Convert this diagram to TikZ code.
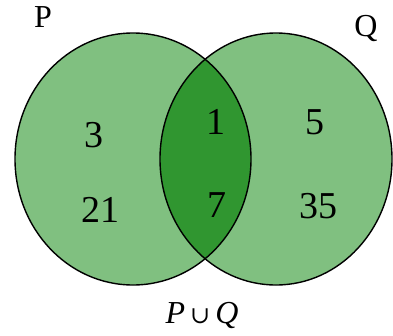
\documentclass[tikz,border=0pt]{standalone}
\usepackage{fontspec}
\setmainfont{Liberation Serif}
\newfontfamily\cupfont{DejaVu Serif}
\begin{document}
\begin{tikzpicture}[x=1pt,y=-1pt,
  setlbl/.style={inner sep=0pt,font=\fontsize{32}{36}\selectfont},
  numlbl/.style={inner sep=0pt,font=\fontsize{38}{42}\selectfont},
  outline/.style={draw=black,line width=1.4pt}]
\definecolor{lightg}{RGB}{128,192,128}
\definecolor{darkg}{RGB}{48,150,48}
\useasboundingbox (0,0) rectangle (393,335);
% fills
\fill[lightg] (133,159) ellipse [x radius=118, y radius=126];
\fill[lightg] (276,159) ellipse [x radius=116, y radius=126];
\begin{scope}
  \clip (133,159) ellipse [x radius=118, y radius=126];
  \fill[darkg] (276,159) ellipse [x radius=116, y radius=126];
\end{scope}
% outlines
\draw[outline] (133,159) ellipse [x radius=118, y radius=126];
\draw[outline] (276,159) ellipse [x radius=116, y radius=126];
% labels
\node[setlbl] (P) at (43,17) {P};
\node[setlbl,anchor=base] (Q) at (366,36) {Q};
\node[numlbl] (n3) at (94,135) {3};
\node[numlbl] (n21) at (100,210) {21};
\node[numlbl] (n1) at (216,122) {1};
\node[numlbl] (n7) at (217,205) {7};
\node[numlbl] (n5) at (315,122) {5};
\node[numlbl] (n35) at (318,206) {35};
\node[setlbl,anchor=base] (union) at (202,323) {\itshape P\hspace{5pt}{\upshape\cupfont\fontsize{24}{28}\selectfont ∪}\hspace{5pt}Q};
\end{tikzpicture}
\end{document}
